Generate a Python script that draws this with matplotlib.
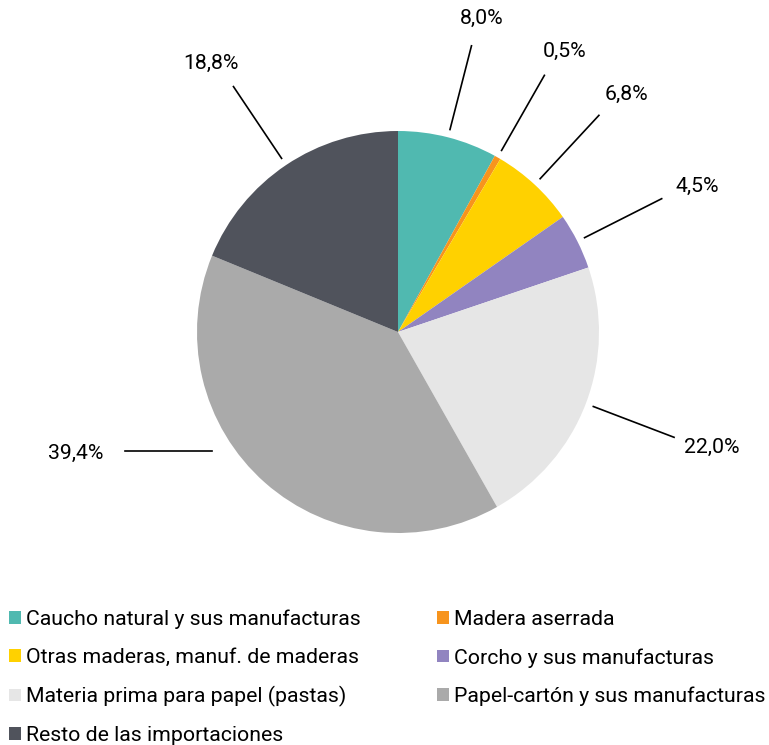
import numpy as np
import matplotlib
matplotlib.use('Agg')
import matplotlib.pyplot as plt
from matplotlib.patches import Patch

plt.rcParams['font.family'] = ['Roboto', 'DejaVu Sans']

categories = ['Caucho natural y sus manufacturas', 'Madera aserrada',
              'Otras maderas, manuf. de maderas', 'Corcho y sus manufacturas',
              'Materia prima para papel (pastas)', 'Papel-cartón y sus manufacturas',
              'Resto de las importaciones']
shares = [8.0, 0.5, 6.8, 4.5, 22.0, 39.4, 18.8]
labels = ['8,0%', '0,5%', '6,8%', '4,5%', '22,0%', '39,4%', '18,8%']
colors = ['#50b9b0', '#f7941d', '#ffd100', '#9184c0', '#e6e6e6', '#aaaaaa', '#50535c']

W, H = 769, 745
fig = plt.figure(figsize=(W / 100, H / 100), dpi=100)
ax = fig.add_axes([0, 0, 1, 1])

cx, cy, R = 398, H - 332, 201
wedges, _ = ax.pie(shares, colors=colors, startangle=90, counterclock=False,
                   center=(cx, cy), radius=R, wedgeprops=dict(linewidth=0))
ax.set_xlim(0, W)
ax.set_ylim(0, H)
ax.set_aspect('equal')
ax.axis('off')

fs = 15.3
for w, lab in zip(wedges, labels):
    mid = np.deg2rad((w.theta1 + w.theta2) / 2)
    if lab == '39,4%':
        # this label was pulled out to the left with a flat leader
        a = np.deg2rad(212.5)
        x0, y0 = cx + 1.10 * R * np.cos(a), cy + 1.10 * R * np.sin(a)
        ax.plot([x0, x0 - 0.43 * R], [y0, y0], color='black', lw=1.2)
        ax.text(x0 - 0.54 * R, y0 - 3, lab, ha='right', va='center', fontsize=fs)
        continue
    c, s = np.cos(mid), np.sin(mid)
    ax.plot([cx + 1.04 * R * c, cx + 1.47 * R * c],
            [cy + 1.04 * R * s, cy + 1.47 * R * s], color='black', lw=1.2)
    ax.text(cx + 1.67 * R * c, cy + 1.61 * R * s, lab, ha='center', va='center',
            fontsize=fs)

# legend fills column-wise, so reorder to read row by row
order = [0, 2, 4, 6, 1, 3, 5]
handles = [Patch(facecolor=colors[i], edgecolor='none') for i in order]
fig.legend(handles, [categories[i] for i in order], loc='upper left',
           bbox_to_anchor=(0.012, 0.182), ncol=2, frameon=False, fontsize=fs,
           handlelength=0.55, handleheight=0.55, handletextpad=0.25,
           columnspacing=3.6, labelspacing=0.9, borderaxespad=0, borderpad=0)

fig.savefig('out.png', dpi=100)
